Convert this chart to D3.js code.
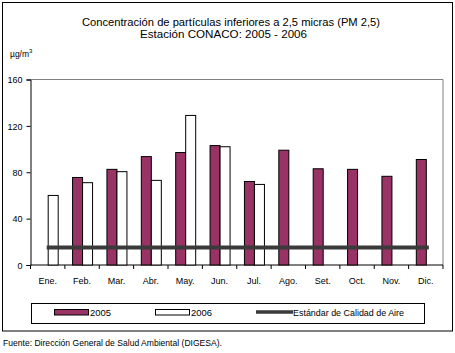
<!DOCTYPE html>
<html>
<head>
<meta charset="utf-8">
<script src="https://cdn.jsdelivr.net/npm/d3@7"></script>
<style>
  body { margin: 0; background: #fff; }
  svg text { font-family: "Liberation Sans", Arial, sans-serif; fill: #000; }
</style>
</head>
<body>
<svg id="chart" width="455" height="353"></svg>
<script>
// data
const months = ["Ene.", "Feb.", "Mar.", "Abr.", "May.", "Jun.", "Jul.", "Ago.", "Set.", "Oct.", "Nov.", "Dic."];
const values2005 = [null, 75.5, 82.5, 93.5, 97, 103, 72, 99, 83, 82.5, 76.5, 91];
const values2006 = [60, 71, 80.5, 73, 129, 102, 69.5, null, null, null, null, null];
const standard = 15;
const yTicks = [0, 40, 80, 120, 160];
const seriesNames = ["2005", "2006"];

const svg = d3.select("#chart");

const margin = {top: 79.5, left: 30.5},
    width = 443 - 30.5,
    height = 265 - 79.5,
    barW = 10;

const x = d3.scaleBand().domain(months).range([margin.left, margin.left + width]);
const y = d3.scaleLinear().domain([0, 160]).range([margin.top + height, margin.top]);
const color = d3.scaleOrdinal().domain(seriesNames).range(["#993366", "#ffffff"]);

// outer frame
svg.append("rect")
    .attr("x", 2.5).attr("y", 2.5)
    .attr("width", 450).attr("height", 328.5)
    .attr("fill", "none").attr("stroke", "#000").attr("stroke-width", 1);

// titles
svg.append("text")
    .attr("x", 82).attr("y", 26)
    .attr("textLength", 298).attr("lengthAdjust", "spacingAndGlyphs")
    .style("font-size", "11.5px")
    .text("Concentración de partículas inferiores a 2,5 micras (PM 2,5)");
svg.append("text")
    .attr("x", 140).attr("y", 37.5)
    .attr("textLength", 167).attr("lengthAdjust", "spacingAndGlyphs")
    .style("font-size", "11.5px")
    .text("Estación CONACO: 2005 - 2006");

// unit label
const unit = svg.append("text")
    .attr("x", 10).attr("y", 57)
    .style("font-size", "8.5px");
unit.append("tspan").text("µg/m");
unit.append("tspan").attr("dy", -4).style("font-size", "6px").text("3");

// plot frame (top + right in grey)
svg.append("path")
    .attr("d", `M${margin.left},${margin.top}H${margin.left + width}V${margin.top + height}`)
    .attr("fill", "none").attr("stroke", "#808080").attr("stroke-width", 1);

// y axis
const yAxis = svg.append("g")
    .attr("transform", `translate(${margin.left},0)`)
    .call(d3.axisLeft(y).tickValues(yTicks).tickSize(4).tickPadding(4));
yAxis.select(".domain").attr("stroke", "#000");
yAxis.selectAll("text").style("font-size", "9px").attr("dy", "0.35em");

// x axis, ticks between categories
const xAxis = svg.append("g")
    .attr("transform", `translate(0,${margin.top + height})`)
    .call(d3.axisBottom(x).tickSize(0).tickPadding(13));
xAxis.select(".domain").attr("stroke", "#000").attr("d", `M${margin.left},0H${margin.left + width}`);
xAxis.selectAll("text").style("font-size", "9px");
xAxis.selectAll(".sep")
    .data(d3.range(months.length + 1))
    .enter().append("line")
    .attr("class", "sep")
    .attr("x1", i => margin.left + i * x.step())
    .attr("x2", i => margin.left + i * x.step())
    .attr("y1", 0).attr("y2", 4)
    .attr("stroke", "#000");

// bars
const series = [values2005, values2006];
series.forEach((vals, s) => {
    svg.append("g").selectAll("rect")
        .data(vals.map((v, i) => ({m: months[i], v})).filter(d => d.v != null))
        .enter().append("rect")
        .attr("x", d => x(d.m) + x.bandwidth() / 2 - barW + s * barW + 0.5)
        .attr("y", d => y(d.v))
        .attr("width", barW)
        .attr("height", d => y(0) - y(d.v))
        .attr("fill", color(seriesNames[s]))
        .attr("stroke", "#000").attr("stroke-width", 1);
});

// air quality standard line
svg.append("line")
    .attr("x1", x(months[0]) + x.bandwidth() / 2 - 1)
    .attr("x2", x(months[11]) + x.bandwidth() / 2 + 3)
    .attr("y1", y(standard)).attr("y2", y(standard))
    .attr("stroke", "#3a3a3a").attr("stroke-width", 4);

// legend
const lg = svg.append("g");
lg.append("rect")
    .attr("x", 31.5).attr("y", 303.5).attr("width", 393).attr("height", 20)
    .attr("fill", "#fff").attr("stroke", "#000");
lg.append("rect").attr("x", 54.5).attr("y", 309.5).attr("width", 34).attr("height", 5.5)
    .attr("fill", color("2005")).attr("stroke", "#000");
lg.append("text").attr("x", 90).attr("y", 316)
    .attr("textLength", 21).attr("lengthAdjust", "spacingAndGlyphs")
    .style("font-size", "9px").text("2005");
lg.append("rect").attr("x", 155.5).attr("y", 309.5).attr("width", 34).attr("height", 5.5)
    .attr("fill", color("2006")).attr("stroke", "#000");
lg.append("text").attr("x", 191).attr("y", 316)
    .attr("textLength", 21).attr("lengthAdjust", "spacingAndGlyphs")
    .style("font-size", "9px").text("2006");
lg.append("line").attr("x1", 256).attr("x2", 293).attr("y1", 312).attr("y2", 312)
    .attr("stroke", "#3a3a3a").attr("stroke-width", 3.5);
lg.append("text").attr("x", 293).attr("y", 316)
    .attr("textLength", 111).attr("lengthAdjust", "spacingAndGlyphs")
    .style("font-size", "9px").text("Estándar de Calidad de Aire");

// source note
svg.append("text")
    .attr("x", 3).attr("y", 346)
    .attr("textLength", 219).attr("lengthAdjust", "spacingAndGlyphs")
    .style("font-size", "9px")
    .text("Fuente: Dirección General de Salud Ambiental (DIGESA).");
</script>
</body>
</html>
